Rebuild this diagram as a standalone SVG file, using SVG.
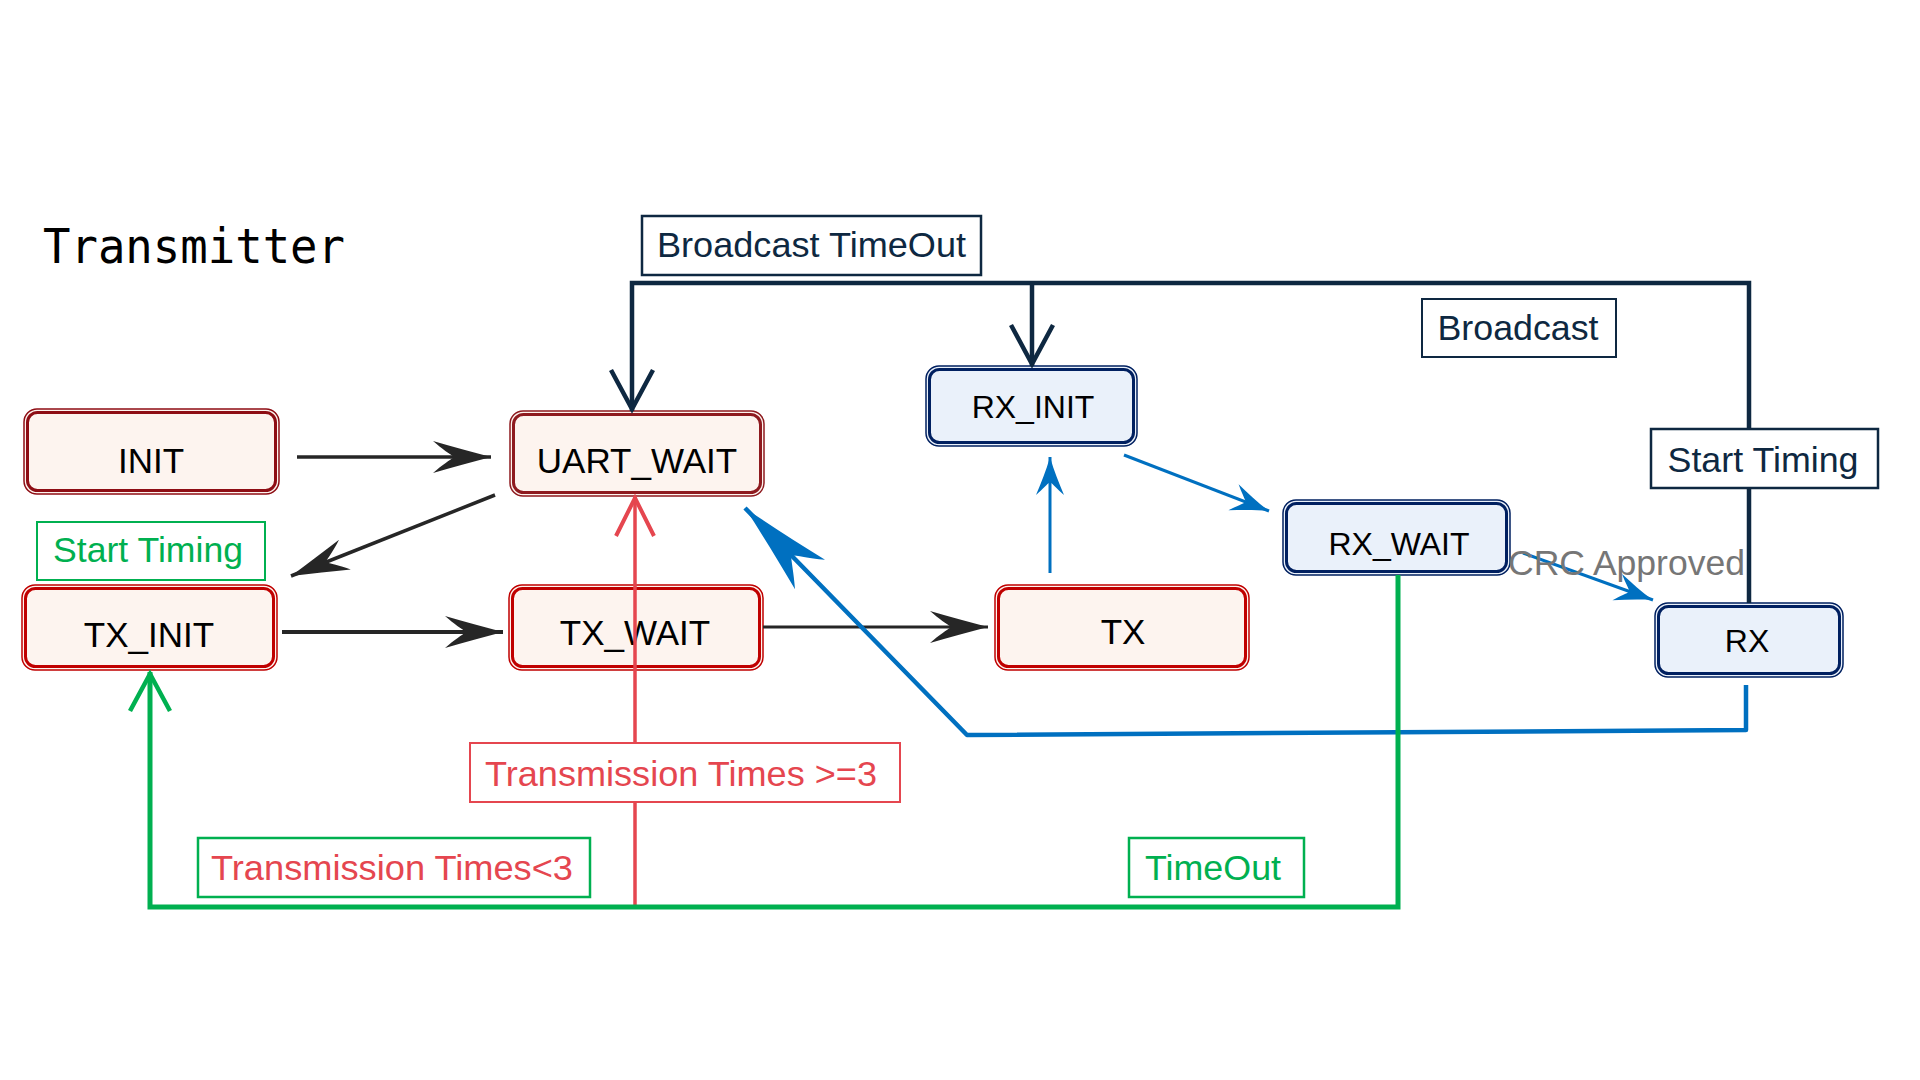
<svg xmlns="http://www.w3.org/2000/svg" width="1920" height="1080" viewBox="0 0 1920 1080">
<style>
  .t { font-family: "Liberation Sans", Arial, sans-serif; text-anchor: middle; }
  .rn { fill: #FDF4EF; }
  .bn { fill: #EAF1FA; }
  .out { fill: none; stroke-width: 1.5; }
  .in { fill: none; stroke-width: 3; }
  .rt { font-size: 35px; fill: #000; }
  .bt { font-size: 32px; fill: #000; }
  .lbl { fill: #fff; }
  .c { fill: none; }
</style>
<defs>
  <marker id="hBlack" markerUnits="userSpaceOnUse" markerWidth="70" markerHeight="40" refX="0" refY="0" orient="auto" overflow="visible">
    <path d="M0,0 C-20,-5 -40,-11 -58,-16 C-49,-8 -41,-3 -37,0 C-41,3 -49,8 -58,16 C-40,11 -20,5 0,0 Z" fill="#262626"/>
  </marker>
  <marker id="hBlue" markerUnits="userSpaceOnUse" markerWidth="50" markerHeight="40" refX="0" refY="0" orient="auto" overflow="visible">
    <path d="M0,0 C-14,-4 -26,-9 -38,-14 C-32,-7 -27,-3 -25,0 C-27,3 -32,7 -38,14 C-26,9 -14,4 0,0 Z" fill="#0070C0"/>
  </marker>
  <marker id="hBlueBig" markerUnits="userSpaceOnUse" markerWidth="100" markerHeight="50" refX="0" refY="0" orient="auto" overflow="visible">
    <path d="M0,0 C-30,-6 -60,-13 -93,-21 C-80,-10 -70,-4 -66,0 C-70,4 -80,10 -93,21 C-60,13 -30,6 0,0 Z" fill="#0070C0"/>
  </marker>
  <marker id="vNavy" markerUnits="userSpaceOnUse" markerWidth="50" markerHeight="50" refX="0" refY="0" orient="auto" overflow="visible">
    <path d="M-41,-21 L-2,0 L-41,21" fill="none" stroke="#0E2841" stroke-width="4.5"/>
  </marker>
  <marker id="vGreen" markerUnits="userSpaceOnUse" markerWidth="50" markerHeight="50" refX="0" refY="0" orient="auto" overflow="visible">
    <path d="M-39,-20 L-2,0 L-39,20" fill="none" stroke="#00B050" stroke-width="4.5"/>
  </marker>
  <marker id="vRed" markerUnits="userSpaceOnUse" markerWidth="50" markerHeight="50" refX="0" refY="0" orient="auto" overflow="visible">
    <path d="M-40,-19 L-2,0 L-40,19" fill="none" stroke="#E5464F" stroke-width="4"/>
  </marker>
</defs>

<rect width="1920" height="1080" fill="#fff"/>

<text x="43" y="263" font-family="'DejaVu Sans Mono', 'Liberation Mono', monospace" font-size="48" textLength="302" lengthAdjust="spacingAndGlyphs" fill="#000">Transmitter</text>

<g id="INIT">
  <rect class="rn" x="24" y="409" width="255" height="85" rx="13"/>
  <rect class="out" x="24" y="409" width="255" height="85" rx="13" stroke="#8E0D14"/>
  <rect class="in" x="27.5" y="412.5" width="248" height="78" rx="10" stroke="#8E0D14" stroke-width="4"/>
  <text class="t rt" x="151" y="473">INIT</text>
</g>
<g id="UART_WAIT">
  <rect class="rn" x="510" y="411" width="254" height="85" rx="13"/>
  <rect class="out" x="510" y="411" width="254" height="85" rx="13" stroke="#8E1A1F"/>
  <rect class="in" x="513.5" y="414.5" width="247" height="78" rx="10" stroke="#8E1A1F"/>
  <text class="t rt" x="637" y="473">UART_WAIT</text>
</g>
<g id="TX_INIT">
  <rect class="rn" x="22" y="585" width="255" height="85" rx="13"/>
  <rect class="out" x="22" y="585" width="255" height="85" rx="13" stroke="#C00000"/>
  <rect class="in" x="25.5" y="588.5" width="248" height="78" rx="10" stroke="#C00000"/>
  <text class="t rt" x="149" y="647">TX_INIT</text>
</g>
<g id="TX_WAIT">
  <rect class="rn" x="509" y="585" width="254" height="85" rx="13"/>
  <rect class="out" x="509" y="585" width="254" height="85" rx="13" stroke="#C00000"/>
  <rect class="in" x="512.5" y="588.5" width="247" height="78" rx="10" stroke="#C00000"/>
  <text class="t rt" x="635" y="645">TX_WAIT</text>
</g>
<g id="TX">
  <rect class="rn" x="995" y="585" width="254" height="85" rx="13"/>
  <rect class="out" x="995" y="585" width="254" height="85" rx="13" stroke="#C00000"/>
  <rect class="in" x="998.5" y="588.5" width="247" height="78" rx="10" stroke="#C00000"/>
  <text class="t rt" x="1123" y="644">TX</text>
</g>
<g id="RX_INIT">
  <rect class="bn" x="926" y="366" width="211" height="80" rx="13"/>
  <rect class="out" x="926" y="366" width="211" height="80" rx="13" stroke="#002060"/>
  <rect class="in" x="929.5" y="369.5" width="204" height="73" rx="10" stroke="#002060" stroke-width="3.5"/>
  <text class="t bt" x="1033" y="418">RX_INIT</text>
</g>
<g id="RX_WAIT">
  <rect class="bn" x="1283" y="500" width="227" height="75" rx="13"/>
  <rect class="out" x="1283" y="500" width="227" height="75" rx="13" stroke="#002060"/>
  <rect class="in" x="1286.5" y="503.5" width="220" height="68" rx="10" stroke="#002060" stroke-width="3.5"/>
  <text class="t bt" x="1399" y="555">RX_WAIT</text>
</g>
<g id="RX">
  <rect class="bn" x="1655" y="603" width="188" height="74" rx="13"/>
  <rect class="out" x="1655" y="603" width="188" height="74" rx="13" stroke="#002060"/>
  <rect class="in" x="1658.5" y="606.5" width="181" height="67" rx="10" stroke="#002060" stroke-width="3.5"/>
  <text class="t bt" x="1747" y="652">RX</text>
</g>

<g id="connectors">
  <path class="c" d="M297,457 H491" stroke="#262626" stroke-width="3.5" marker-end="url(#hBlack)"/>
  <path class="c" d="M495,495 L291,576" stroke="#262626" stroke-width="3.5" marker-end="url(#hBlack)"/>
  <path class="c" d="M282,632 H503" stroke="#262626" stroke-width="4" marker-end="url(#hBlack)"/>
  <path class="c" d="M763,627 H988" stroke="#262626" stroke-width="3" marker-end="url(#hBlack)"/>

  <path class="c" d="M1749,603 V283 H632 V411" stroke="#0E2841" stroke-width="4.5" marker-end="url(#vNavy)"/>
  <path class="c" d="M1032,283 V366" stroke="#0E2841" stroke-width="4.5" marker-end="url(#vNavy)"/>

  <path class="c" d="M1050,573 V457" stroke="#0070C0" stroke-width="3" marker-end="url(#hBlue)"/>
  <path class="c" d="M1124,455 L1269,511" stroke="#0070C0" stroke-width="3" marker-end="url(#hBlue)"/>
  <path class="c" d="M1523,553 L1653,600" stroke="#0070C0" stroke-width="3" marker-end="url(#hBlue)"/>
  <path class="c" d="M1746,685 V730 L967,735 L745,508" stroke="#0070C0" stroke-width="4.5" stroke-linejoin="round" marker-end="url(#hBlueBig)"/>

  <path class="c" d="M635,907 V496" stroke="#E5464F" stroke-width="3.5" marker-end="url(#vRed)"/>

  <path class="c" d="M1398,575 V907 H150 V672" stroke="#00B050" stroke-width="5" marker-end="url(#vGreen)"/>
</g>

<g id="labels">
  <g id="lbl-broadcast-timeout">
    <rect class="lbl" x="642" y="216" width="339" height="59" stroke="#0E2841" stroke-width="2.5"/>
    <text class="t" x="811.5" y="257" font-size="35" textLength="309" lengthAdjust="spacingAndGlyphs" fill="#0E2841">Broadcast TimeOut</text>
  </g>
  <g id="lbl-broadcast">
    <rect class="lbl" x="1422" y="299" width="194" height="58" stroke="#0E2841" stroke-width="2"/>
    <text class="t" x="1518" y="340" font-size="35" textLength="161" lengthAdjust="spacingAndGlyphs" fill="#0E2841">Broadcast</text>
  </g>
  <g id="lbl-start-timing-rx">
    <rect class="lbl" x="1651" y="429" width="227" height="59" stroke="#0E2841" stroke-width="2.5"/>
    <text class="t" x="1763" y="472" font-size="35" textLength="191" lengthAdjust="spacingAndGlyphs" fill="#0E2841">Start Timing</text>
  </g>
  <text x="1508" y="575" font-family="'Liberation Sans', Arial, sans-serif" font-size="35" textLength="237" lengthAdjust="spacingAndGlyphs" fill="#767676">CRC Approved</text>
  <g id="lbl-start-timing-tx">
    <rect class="lbl" x="37" y="522" width="228" height="58" stroke="#00B050" stroke-width="2"/>
    <text class="t" x="148" y="562" font-size="35" textLength="190" lengthAdjust="spacingAndGlyphs" fill="#00B050">Start Timing</text>
  </g>
  <g id="lbl-times-ge3">
    <rect class="lbl" x="470" y="743" width="430" height="59" stroke="#E5464F" stroke-width="2"/>
    <text class="t" x="681" y="786" font-size="35" textLength="392" lengthAdjust="spacingAndGlyphs" fill="#E5464F">Transmission Times &gt;=3</text>
  </g>
  <g id="lbl-times-lt3">
    <rect class="lbl" x="198" y="838" width="392" height="59" stroke="#00B050" stroke-width="2.5"/>
    <text class="t" x="392" y="880" font-size="35" textLength="362" lengthAdjust="spacingAndGlyphs" fill="#E5464F">Transmission Times&lt;3</text>
  </g>
  <g id="lbl-timeout">
    <rect class="lbl" x="1129" y="838" width="175" height="59" stroke="#00B050" stroke-width="2.5"/>
    <text class="t" x="1213" y="880" font-size="35" textLength="136" lengthAdjust="spacingAndGlyphs" fill="#00B050">TimeOut</text>
  </g>
</g>
</svg>
